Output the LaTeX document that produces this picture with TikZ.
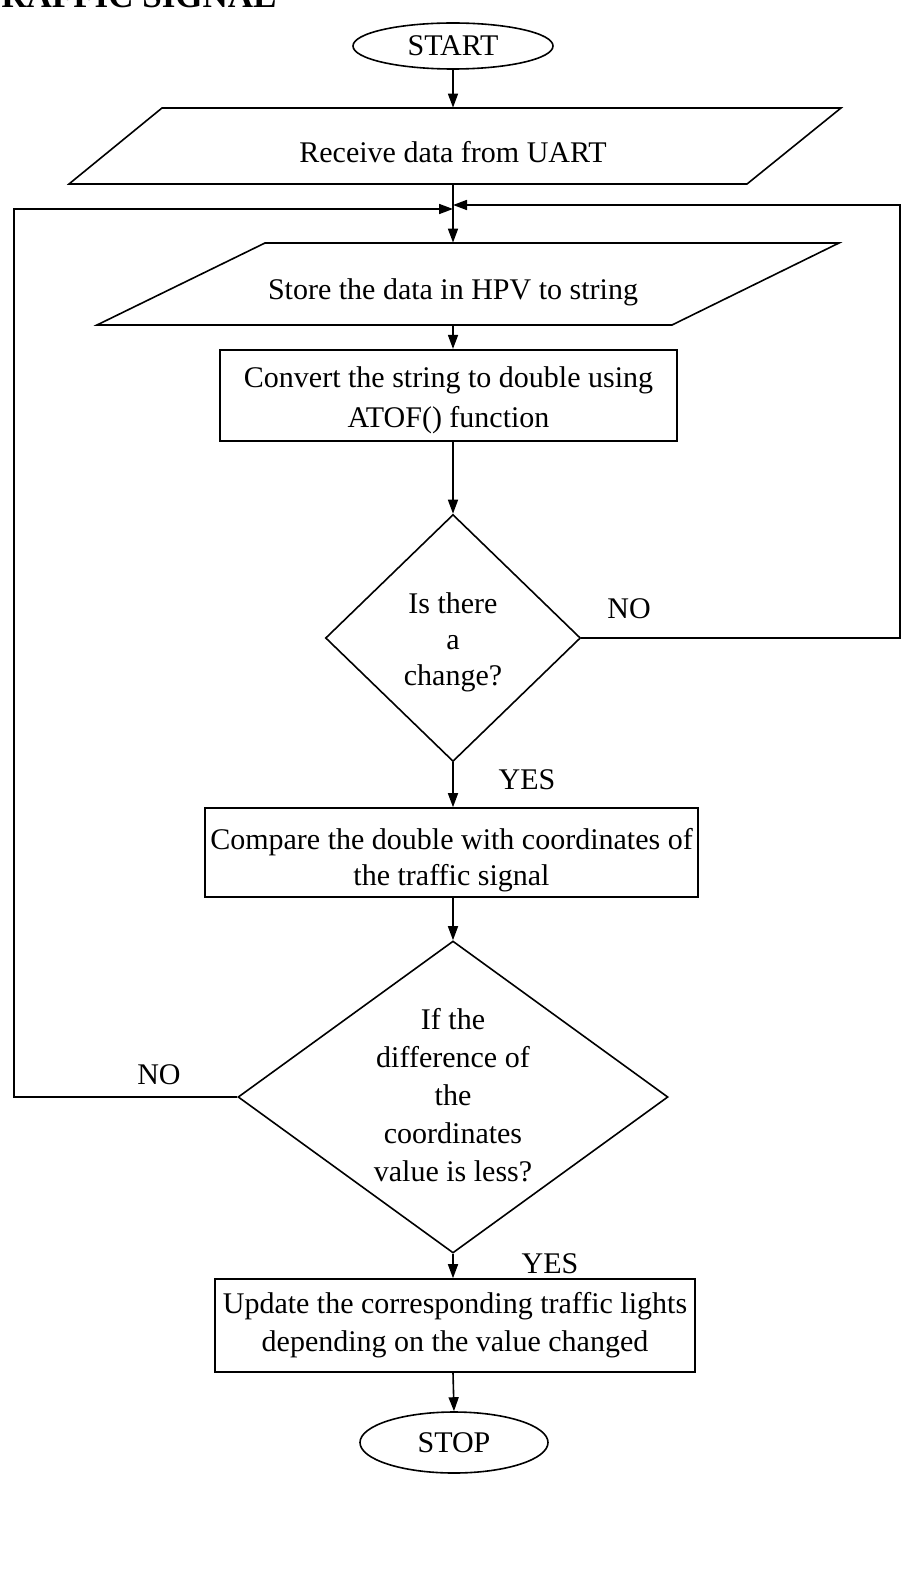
\documentclass[tikz,border=0pt]{standalone}
\usepackage{fontspec}
\setmainfont{Liberation Serif}
\usetikzlibrary{shapes.geometric,arrows.meta}
\begin{document}
\begin{tikzpicture}[x=0.5pt,y=-0.5pt,
  every node/.style={font=\fontsize{15}{19}\selectfont},
  line/.style={draw=black,line width=0.8pt},
  arr/.style={line,-{Triangle[length=7pt,width=5pt]}},
  term/.style={ellipse,draw,line width=0.8pt,inner sep=0pt},
  procbox/.style={rectangle,draw,line width=0.8pt,inner sep=0pt},
  iotext/.style={rectangle,inner sep=0pt,align=center},
  decision/.style={diamond,draw,line width=0.8pt,inner sep=0pt},
  lbl/.style={inner sep=0pt,align=center}
]
\useasboundingbox (0,0) rectangle (911,1583);

\node[anchor=base east,inner sep=0pt,font=\bfseries\fontsize{17.5}{20}\selectfont] (title) at (277,8) {TRAFFIC SIGNAL};

\node[term,minimum width=100pt,minimum height=23pt] (start) at (453,46) {START};

\node[iotext,minimum height=38pt] (recv) at (453,146) {};
\node[lbl] (recvt) at (453,152) {Receive data from UART};
\draw[line] (162,108) -- (841,108) -- (747,184) -- (69,184) -- cycle;

\node[iotext,minimum height=41pt] (store) at (453,284) {};
\node[lbl] (storet) at (453,292) {Store the data in HPV to string};
\draw[line] (265,243) -- (839,243) -- (672,325) -- (97,325) -- cycle;

\node[procbox,line width=1.1pt,minimum width=228.5pt,minimum height=45.5pt] (conv) at (448.5,395.5) {};
\node[lbl,font=\fontsize{15}{20}\selectfont] (convt) at (448.5,400.5) {Convert the string to double using\\ATOF() function};

\node[decision,minimum width=127.5pt,minimum height=123.5pt] (d1) at (453,638) {};
\node[lbl,font=\fontsize{15}{18}\selectfont] (d1t) at (453,642) {Is there\\a\\change?};
\node[lbl] (no1) at (629,609) {NO};
\node[lbl] (yes1) at (527,780) {YES};

\node[procbox,minimum width=246.5pt,minimum height=44.5pt] (cmp) at (451.5,852.5) {};
\node[lbl,font=\fontsize{15}{18}\selectfont] (cmpt) at (451.5,860.5) {Compare the double with coordinates of\\the traffic signal};

\node[decision,minimum width=215pt,minimum height=156pt] (d2) at (453,1097) {};
\node[lbl] (d2t) at (453,1095) {If the\\difference of\\the\\coordinates\\value is less?};
\node[lbl] (no2) at (159,1075) {NO};
\node[lbl] (yes2) at (550,1264) {YES};

\node[procbox,minimum width=240pt,minimum height=46.5pt] (upd) at (455,1325.5) {};
\node[lbl] (updt) at (455,1325.5) {Update the corresponding traffic lights\\depending on the value changed};

\node[term,minimum width=94pt,minimum height=30.5pt] (stop) at (454,1442.5) {STOP};

\coordinate (mL) at (453,209);
\coordinate (mR) at (453,205);
\coordinate (cL) at (14,209);
\coordinate (cR) at (900,205);

\draw[arr] (start.south) -- (recv.north);
\draw[arr] (recv.south) -- (store.north);
\draw[arr] (store.south) -- (store.south |- conv.north);
\draw[arr] (d1.north |- conv.south) -- (d1.north);
\draw[arr] (d1.south) -- (d1.south |- cmp.north);
\draw[arr] (d2.north |- cmp.south) -- (d2.north);
\draw[arr] (d2.south) -- (d2.south |- upd.north);
\draw[arr] (d2.south |- upd.south) -- (stop.north);
\draw[arr] (d1.east) -| (cR) -- (mR);
\draw[arr] (d2.west) -| (cL) -- (mL);
\end{tikzpicture}
\end{document}
